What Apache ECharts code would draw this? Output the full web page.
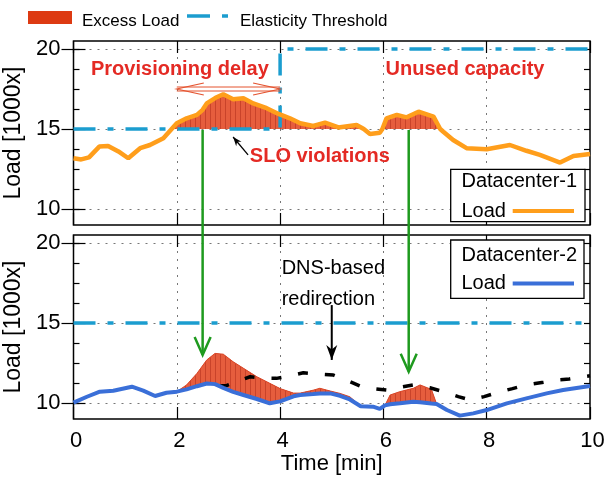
<!DOCTYPE html>
<html><head><meta charset="utf-8">
<script src="https://cdn.jsdelivr.net/npm/echarts@6/dist/echarts.min.js"></script>
<style>html,body{margin:0;padding:0;background:#fff}#c{width:607px;height:479px}</style>
</head><body><div id="c"></div><script>
// ---------- data ----------
const xTicks = [0, 2, 4, 6, 8, 10];
const yMajor = [10, 15, 20];
const yMinor = [10, 11.25, 12.5, 13.75, 15, 16.25, 17.5, 18.75, 20];
const thresholdTop = 15;

// Datacenter-1 load (top)
const dc1T = [0,0.15,0.3,0.5,0.67,0.87,1.06,1.29,1.48,1.74,1.9,2.0,2.19,2.39,2.5,2.58,2.75,2.9,3.09,3.29,3.48,3.74,3.97,4.19,4.39,4.64,4.87,5.13,5.48,5.62,5.74,5.93,5.98,6.06,6.26,6.45,6.68,6.97,7.1,7.16,7.35,7.61,8.0,8.45,8.77,9.03,9.42,9.68,10];
const dc1V = [13.17,13.1,13.23,13.9,13.94,13.6,13.17,13.8,14.0,14.42,15.0,15.36,15.67,15.88,16.2,16.6,16.95,17.17,16.86,16.92,16.6,16.3,15.94,15.67,15.36,15.19,15.4,15.1,15.25,15.0,14.69,14.77,15.0,15.67,15.88,15.73,16.08,15.77,15.0,14.83,14.31,13.8,13.73,14.0,13.64,13.38,12.9,13.31,13.44];

// Elasticity threshold
const thr1T = [0, 4, 4, 10];
const thr1V = [15, 15, 20, 20];
const thr2T = [0, 10];
const thr2V = [15, 15];

// Datacenter-2 load (bottom)
const dc2T = [0,0.26,0.51,0.77,1.13,1.35,1.58,1.8,2.0,2.19,2.39,2.58,2.74,2.9,3.09,3.29,3.55,3.8,4.0,4.26,4.39,4.64,4.77,4.97,5.16,5.35,5.56,5.8,5.93,6.03,6.13,6.32,6.58,6.71,6.93,7.03,7.23,7.48,7.74,8.0,8.39,8.77,9.16,9.48,10];
const dc2V = [10.02,10.39,10.71,10.77,11.02,10.77,10.44,10.64,10.71,10.85,11.05,11.22,11.18,10.95,10.7,10.5,10.25,9.98,10.1,10.42,10.5,10.56,10.6,10.6,10.45,10.22,9.8,9.77,9.63,9.85,9.92,9.98,10.08,10.05,9.97,9.94,9.56,9.21,9.35,9.56,9.98,10.29,10.6,10.81,11.06];

// Excess load redirected to Datacenter-2 (top of red area)
const red1T = [2.0,2.19,2.39,2.58,2.74,2.9,3.09,3.29,3.55,3.8,4.0,4.26,4.39,4.64,4.77,4.97,5.16,5.35,5.56];
const red1V = [10.71,11.13,11.85,12.69,13.1,13.05,12.58,12.17,11.64,11.23,10.9,10.62,10.62,10.8,10.92,10.75,10.6,10.39,9.8];
const red2T = [6.03,6.13,6.32,6.58,6.71,6.93,7.03];
const red2V = [9.85,10.5,10.71,10.92,11.13,10.85,9.94];

// DNS-based redirection (black dashed)
const dnsT = [2.82,2.97,3.2,3.42,3.7,3.93,4.2,4.45,4.75,5.03,5.3,5.55,5.8,6.06,6.35,6.58,6.9,7.16,7.45,7.68,7.95,8.19,8.5,8.77,9.1,9.35,9.6,9.87,10];
const dnsV = [11.06,11.1,11.4,11.64,11.55,11.54,11.7,11.89,11.8,11.75,11.4,11.06,10.9,10.81,11.0,11.13,10.95,10.71,10.4,10.19,10.4,10.64,10.9,11.13,11.3,11.44,11.5,11.64,11.7];

// ---------- styles ----------
const FONT = '"Liberation Sans", Arial, Helvetica, sans-serif';
const C_ORANGE = '#ff9e1b', C_BLUE = '#3a6fd8', C_THR = '#1b9dcf', C_RED = '#e42a24', C_GREEN = '#1e9a1e';
const THR_DASH = [22, 12, 6, 12];

const pat = document.createElement('canvas');
pat.width = 5; pat.height = 8;
(function(){ const g = pat.getContext('2d'); g.fillStyle = '#e65d3d'; g.fillRect(0,0,5,8); g.fillStyle = '#c9432a'; g.fillRect(0,0,1,8); })();

const zip = (T, V) => T.map((t, i) => [t, V[i]]);

function runs(T, V, thr) {
  const out = []; let cur = null;
  for (let i = 0; i < T.length; i++) {
    if (V[i] >= thr - 1e-9) { if (!cur) { cur = []; out.push(cur); } cur.push(i); }
    else cur = null;
  }
  return out.filter(r => r.length > 1);
}

// segments: each {top:[[x,y]...], base:[[x,y]...]}
const topSegs = runs(dc1T, dc1V, thresholdTop).map(r => ({
  top: r.map(i => [dc1T[i], dc1V[i]]), base: r.map(i => [dc1T[i], thresholdTop])}));
const botSegs = [[red1T, red1V], [red2T, red2V]].map(([T, V]) => ({
  top: T.map((t, i) => [t, V[i]]), base: T.map(t => [t, dc2V[dc2T.indexOf(t)]])}));

function areaSeries(segs, xi, yi) {
  return {type:'custom', xAxisIndex:xi, yAxisIndex:yi, silent:true, z:1, clip:true,
    data: segs.map((s, i) => [s.top[0][0], s.top[0][1], i]),
    encode:{x:0, y:1},
    renderItem: function (params, api) {
      const s = segs[params.dataIndex];
      const pts = s.top.map(p => api.coord(p)).concat(s.base.slice().reverse().map(p => api.coord(p)));
      const topPts = s.top.map(p => api.coord(p));
      return {type:'group', children:[
        {type:'polygon', shape:{points:pts}, style:{fill:'#e65d3d'}},
        {type:'polygon', shape:{points:pts}, style:{fill:{image:pat, repeat:'repeat'}}},
        {type:'polyline', shape:{points:topPts}, style:{stroke:'#d9482a', lineWidth:1, fill:null}}
      ]};
    }};
}

const series = [];
series.push(areaSeries(topSegs, 0, 0));
series.push(areaSeries(botSegs, 2, 4));
const gridMark = {silent:true, symbol:'none', label:{show:false},
  lineStyle:{type:[2,6], color:'#777', width:1}, data: yMajor.map(v => ({yAxis:v}))};
series.push({type:'line', name:'Elasticity Threshold', xAxisIndex:0, yAxisIndex:0, symbol:'none', data: zip(thr1T, thr1V),
  lineStyle:{color:C_THR, width:3.5, type:THR_DASH}, z:3, markLine: Object.assign({z:0}, gridMark)});
series.push({type:'line', name:'Elasticity Threshold', xAxisIndex:2, yAxisIndex:4, symbol:'none', data: zip(thr2T, thr2V),
  lineStyle:{color:C_THR, width:3.5, type:THR_DASH}, z:3, markLine: Object.assign({z:0}, gridMark)});
series.push({type:'line', name:'DNS', xAxisIndex:2, yAxisIndex:4, symbol:'none', data: zip(dnsT, dnsV),
  lineStyle:{color:'#000', width:3.5, type:[10,17]}, z:4});
series.push({type:'line', name:'Load DC1', xAxisIndex:0, yAxisIndex:0, symbol:'none', data: zip(dc1T, dc1V),
  lineStyle:{color:C_ORANGE, width:4.5}, z:5});
series.push({type:'line', name:'Load DC2', xAxisIndex:2, yAxisIndex:4, symbol:'none', data: zip(dc2T, dc2V),
  lineStyle:{color:C_BLUE, width:4}, z:5});

function xAx(g, pos, labels) {
  return {gridIndex:g, type:'value', min:0, max:10, interval:2, position:pos,
    axisLine:{show:false},
    axisTick:{show:true, inside:true, length:12, lineStyle:{color:'#000', width:1.2}},
    axisLabel:{show:labels, fontSize:22, fontFamily:FONT, color:'#000', margin:11, padding:[0,0,0,5]},
    splitLine:{show:pos === 'bottom', showMinLine:false, showMaxLine:false, lineStyle:{type:[2,6], color:'#777', width:1}},
    name: labels ? 'Time [min]' : '', nameLocation:'middle', nameGap:33,
    nameTextStyle:{fontSize:22, fontFamily:FONT, color:'#000'}};
}
function yAx(g, pos, major, withName) {
  return {gridIndex:g, type:'value', min:9, max:20.5, position:pos,
    axisLine:{show:false},
    axisTick:{show:true, inside:true, length: major ? 12 : 6, customValues: major ? yMajor : yMinor, lineStyle:{color:'#000', width:1.2}},
    axisLabel:{show: withName, customValues: yMajor, fontSize:22, fontFamily:FONT, color:'#000', margin:13, padding:[10,0,0,0]},
    splitLine:{show:false},
    name: withName ? 'Load [1000x]' : '', nameLocation:'middle', nameGap:40,
    nameTextStyle:{fontSize:23, fontFamily:FONT, color:'#000'}};
}

const gridCommon = {left:73.5, width:516.5, height:184, show:true, borderColor:'#000', borderWidth:1.5,
  backgroundColor:'transparent', containLabel:false, outerBoundsMode:'none'};

const chart = echarts.init(document.getElementById('c'), null, {renderer:'canvas'});
chart.setOption({
  animation:false,
  backgroundColor:'#fff',
  textStyle:{fontFamily:FONT},
  grid:[Object.assign({top:41}, gridCommon), Object.assign({top:235}, gridCommon)],
  xAxis:[xAx(0,'bottom',false), xAx(0,'top',false), xAx(1,'bottom',true), xAx(1,'top',false)],
  yAxis:[yAx(0,'left',true,true), yAx(0,'right',true,false), yAx(0,'left',false,false), yAx(0,'right',false,false),
         yAx(1,'left',true,true), yAx(1,'right',true,false), yAx(1,'left',false,false), yAx(1,'right',false,false)],
  series: series
});

// ---------- annotations ----------
const P = (g, x, y) => chart.convertToPixel({xAxisIndex: g === 0 ? 0 : 2, yAxisIndex: g === 0 ? 0 : 4}, [x, y]);
const G = [];
function text(p, s, font, color, align) {
  G.push({type:'text', x:p[0], y:p[1], z:20, style:{text:s, font:font, fill:color, align:align || 'center', verticalAlign:'middle'}});
}
function line(a, b, color, w, z) {
  G.push({type:'line', z:z || 20, shape:{x1:a[0], y1:a[1], x2:b[0], y2:b[1]}, style:{stroke:color, lineWidth:w}});
}
function openHead(tip, from, len, half, color, w) {
  const dx = tip[0]-from[0], dy = tip[1]-from[1], L = Math.hypot(dx, dy), ux = dx/L, uy = dy/L;
  const bx = tip[0]-ux*len, by = tip[1]-uy*len;
  G.push({type:'polyline', z:20, shape:{points:[[bx - uy*half, by + ux*half], tip, [bx + uy*half, by - ux*half]]},
    style:{stroke:color, lineWidth:w, fill:null}});
}
function solidHead(tip, from, len, half, color) {
  const dx = tip[0]-from[0], dy = tip[1]-from[1], L = Math.hypot(dx, dy), ux = dx/L, uy = dy/L;
  const bx = tip[0]-ux*len, by = tip[1]-uy*len;
  const mx = tip[0]-ux*len*0.7, my = tip[1]-uy*len*0.7;
  G.push({type:'polygon', z:20, shape:{points:[[bx - uy*half, by + ux*half], tip, [bx + uy*half, by - ux*half], [mx, my]]},
    style:{fill:color}});
}
const BOLD = 'bold 20px ' + FONT, REG = '20px ' + FONT;
text(P(0, 2.06, 18.75), 'Provisioning delay', BOLD, C_RED);
text(P(0, 7.58, 18.75), 'Unused capacity', BOLD, C_RED);
text(P(0, 4.77, 13.3), 'SLO violations', BOLD, C_RED);
// double arrow
{
  const a = P(0, 2, 17.5), b = P(0, 4, 17.5);
  line([a[0], a[1]-2], [b[0], b[1]-2], '#e4532f', 1);
  line([a[0], a[1]+2], [b[0], b[1]+2], '#e4532f', 1);
  openHead(a, b, 27, 6, '#e4532f', 1.2);
  openHead(b, a, 27, 6, '#e4532f', 1.2);
}
// SLO arrow
{
  const s = P(0, 3.38, 13.38), e = P(0, 3.09, 14.5);
  line(s, e, '#000', 1.3);
  solidHead(e, s, 9, 3.5, '#000');
}
// green arrows
[[2.5, 14.94, 13.0], [6.49, 14.94, 11.96]].forEach(([x, y0, y1]) => {
  const a = P(0, x, y0), b = P(1, x, y1);
  line(a, b, C_GREEN, 2.5);
  openHead(b, a, 18, 8, C_GREEN, 2.5);
});
// DNS text and arrow
text(P(1, 4.03, 18.4), 'DNS-based', REG, '#000', 'left');
text(P(1, 4.03, 16.5), 'redirection', REG, '#000', 'left');
{
  const a = P(1, 5.0, 16.12), b = P(1, 5.0, 12.69);
  line(a, b, '#000', 2);
  solidHead(b, a, 15, 5.5, '#000');
}
// inner legend boxes
function box(x1, y1, x2, y2, title, color, ly1, ly2) {
  G.push({type:'rect', z:15, shape:{x:x1, y:y1, width:x2-x1, height:y2-y1}, style:{fill:'#fff', stroke:'#000', lineWidth:1.3}});
  G.push({type:'text', z:16, x:461.5, y:ly1, style:{text:title, font:REG, fill:'#000', align:'left', verticalAlign:'middle'}});
  G.push({type:'text', z:16, x:461.5, y:ly2, style:{text:'Load', font:REG, fill:'#000', align:'left', verticalAlign:'middle'}});
  G.push({type:'line', z:16, shape:{x1:512.7, y1:ly2, x2:574, y2:ly2}, style:{stroke:color, lineWidth:4}});
}
box(450.7, 169.3, 585, 221.7, 'Datacenter-1', C_ORANGE, 181, 211);
box(450.7, 240, 584, 298.3, 'Datacenter-2', C_BLUE, 255, 283.5);
// top legend
G.push({type:'rect', z:16, shape:{x:28, y:11, width:44, height:13}, style:{fill:'#dd3a12'}});
G.push({type:'text', z:16, x:82, y:21, style:{text:'Excess Load', font:'17px ' + FONT, fill:'#000', align:'left', verticalAlign:'middle'}});
G.push({type:'line', z:16, shape:{x1:187, y1:16, x2:210, y2:16}, style:{stroke:C_THR, lineWidth:3.5}});
G.push({type:'line', z:16, shape:{x1:222, y1:16, x2:228, y2:16}, style:{stroke:C_THR, lineWidth:3.5}});
G.push({type:'text', z:16, x:240, y:21, style:{text:'Elasticity Threshold', font:'17px ' + FONT, fill:'#000', align:'left', verticalAlign:'middle'}});

chart.setOption({graphic: G});
</script></body></html>
